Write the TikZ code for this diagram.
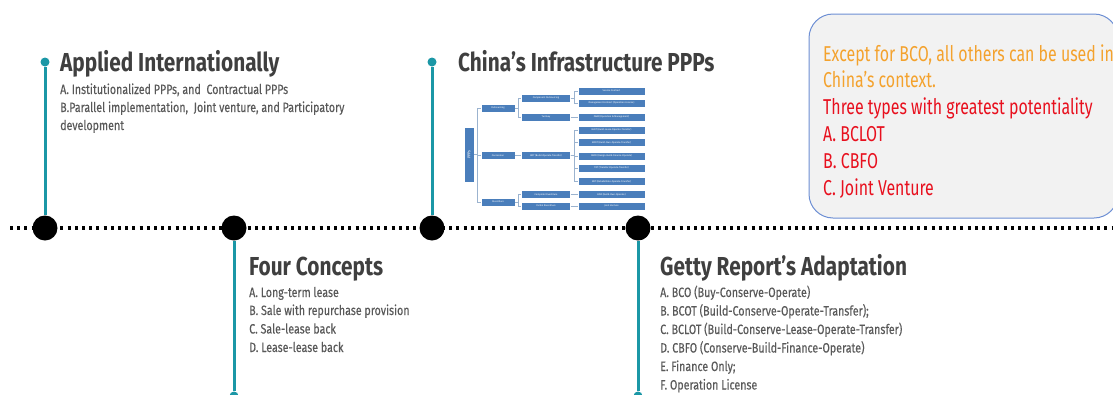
\documentclass[tikz,border=0pt]{standalone}
\usepackage{fontspec}
\newfontfamily\headfont[FakeStretch=0.80]{Fira Sans}
\newfontfamily\bodyfont[FakeStretch=0.79,FakeBold=0.3]{Fira Sans}
\newfontfamily\notefont[FakeStretch=0.74]{Fira Sans}
\newfontfamily\treefont{Fira Sans}
\definecolor{teal}{HTML}{1B97A6}
\definecolor{titlegray}{HTML}{3F3F3F}
\definecolor{itemgray}{HTML}{595959}
\definecolor{noteorange}{HTML}{F4A22D}
\definecolor{notered}{HTML}{E8101E}
\definecolor{noteedge}{HTML}{6D8FD4}
\definecolor{notefill}{HTML}{F2F2F2}
\definecolor{boxblue}{HTML}{4A7EBB}
\definecolor{treeline}{HTML}{9BB3CF}

\begin{document}
\begin{tikzpicture}[x=1pt,y=-1pt,
  title/.style={anchor=base west,inner sep=0pt,text=titlegray,
    font=\headfont\bfseries\fontsize{26}{30}\selectfont},
  item/.style={anchor=base west,inner sep=0pt,text=itemgray,
    font=\bodyfont\fontsize{13.5}{15}\selectfont},
  note/.style={anchor=base west,inner sep=0pt,
    font=\notefont\fontsize{21.5}{25}\selectfont},
  hub/.style={circle,fill=black,inner sep=0pt,minimum size=25pt},
  pin/.style={circle,fill=teal,inner sep=0pt,minimum size=9pt},
  stem/.style={teal,line width=3pt},
  ppbox/.style={fill=boxblue,draw=white,line width=0.4pt,text=white,inner sep=0pt,
    minimum height=8pt,font=\treefont\fontsize{2.4}{2.8}\selectfont},
  tline/.style={treeline,line width=0.8pt}]
\useasboundingbox (0,0) rectangle (1113,394);
\clip (0,0) rectangle (1113,394);

% dotted time line
\coordinate (L0) at (10,228);
\coordinate (L1) at (1116,228);
\draw [line width=3.2pt,dash pattern=on 3pt off 4.2pt] (L0) -- (L1);

\node[hub] (H1) at (45,228) {};
\node[hub] (H2) at (234,228) {};
\node[hub] (H3) at (432,228) {};
\node[hub] (H4) at (638,228) {};

\node[pin] (P1) at (45,62) {};
\node[pin] (P2) at (234,396) {};
\node[pin] (P3) at (432,62) {};
\node[pin] (P4) at (638,396) {};

\draw[stem] (P1) -- (H1);
\draw[stem] (H2) -- (P2);
\draw[stem] (P3) -- (H3);
\draw[stem] (H4) -- (P4);

% applied internationally
\node[title] (T1) at (60,71) {Applied Internationally};
\node[item] (A1) at (60,94) {A. Institutionalized PPPs, and\ \ Contractual PPPs};
\node[item] (A2) at (60,112) {B.Parallel implementation,\ \ Joint venture, and Participatory};
\node[item] (A3) at (60,130) {development};

% four concepts
\node[title] (T2) at (249,275.5) {Four Concepts};
\node[item] (B1) at (249,297) {A. Long-term lease};
\node[item] (B2) at (249,315) {B. Sale with repurchase provision};
\node[item] (B3) at (249,333.5) {C. Sale-lease back};
\node[item] (B4) at (249,352) {D. Lease-lease back};

% china
\node[title] (T3) at (458,71) {China’s Infrastructure PPPs};

% getty
\node[title] (T4) at (660,275.5) {Getty Report’s Adaptation};
\node[item] (C1) at (660,297) {A. BCO (Buy-Conserve-Operate)};
\node[item] (C2) at (660,315.5) {B. BCOT (Build-Conserve-Operate-Transfer);};
\node[item] (C3) at (660,334) {C. BCLOT (Build-Conserve-Lease-Operate-Transfer)};
\node[item] (C4) at (660,352.5) {D. CBFO (Conserve-Build-Finance-Operate)};
\node[item] (C5) at (660,371) {E. Finance Only;};
\node[item] (C6) at (660,389.5) {F. Operation License};

% note box
\draw[noteedge,fill=notefill,line width=1pt,rounded corners=24pt] (809,14) rectangle (1118,218);
\node[note,text=noteorange] (N1) at (823,61) {Except for BCO, all others can be used in};
\node[note,text=noteorange] (N2) at (823,87.5) {China’s context.};
\node[note,text=notered] (N3) at (823,114) {Three types with greatest potentiality};
\node[note,text=notered] (N4) at (823,141) {A. BCLOT};
\node[note,text=notered] (N5) at (823,168) {B. CBFO};
\node[note,text=notered] (N6) at (823,195) {C. Joint Venture};

% PPP tree
\node[ppbox,minimum width=10pt,minimum height=55pt] (ppp) at (469,154.5) {\rotatebox{90}{\fontsize{4}{4}\selectfont PPPs}};

\node[ppbox,minimum width=34pt] (out) at (498,108) {Outsourcing};
\node[ppbox,minimum width=34pt] (con) at (498,155.5) {Concession};
\node[ppbox,minimum width=34pt] (div) at (498,202) {Divestiture};

\node[ppbox,minimum width=49pt] (cmp) at (546,98) {Component Outsourcing};
\node[ppbox,minimum width=49pt] (trn) at (546,117) {Turnkey};
\node[ppbox,minimum width=49pt] (bot) at (546,155.5) {BOT (Build-Operate-Transfer)};
\node[ppbox,minimum width=49pt] (cdv) at (546,194.5) {Complete Divestiture};
\node[ppbox,minimum width=49pt] (pdv) at (546,206) {Partial Divestiture};

\node[ppbox,minimum width=67pt] (svc) at (611.5,91) {Service Contract};
\node[ppbox,minimum width=67pt] (mgt) at (611.5,103) {Management Contract (Operation License)};
\node[ppbox,minimum width=67pt] (om) at (611.5,117) {O\&M (Operation \& Management)};
\node[ppbox,minimum width=67pt] (blot) at (611.5,130) {BLOT (Build-Lease-Operate-Transfer)};
\node[ppbox,minimum width=67pt] (boot) at (611.5,142.5) {BOOT (Build-Own-Operate-Transfer)};
\node[ppbox,minimum width=67pt] (dbfo) at (611.5,156) {DBFO (Design-Build-Finance-Operate)};
\node[ppbox,minimum width=67pt] (tot) at (611.5,168) {TOT (Transfer-Operate-Transfer)};
\node[ppbox,minimum width=67pt] (rot) at (611.5,181.5) {ROT (Rehabilitate-Operate-Transfer)};
\node[ppbox,minimum width=67pt] (boo) at (611.5,194.5) {BOO (Build-Own-Operate)};
\node[ppbox,minimum width=67pt] (jv) at (611.5,206) {Joint Venture};

\draw[tline] (ppp.east) -- ++(3.5,0) |- (out.west);
\draw[tline] (ppp.east) -- ++(3.5,0) |- (con.west);
\draw[tline] (ppp.east) -- ++(3.5,0) |- (div.west);
\draw[tline] (out.east) -- ++(3.5,0) |- (cmp.west);
\draw[tline] (out.east) -- ++(3.5,0) |- (trn.west);
\draw[tline] (con.east) -- (bot.west);
\draw[tline] (div.east) -- ++(3.5,0) |- (cdv.west);
\draw[tline] (div.east) -- ++(3.5,0) |- (pdv.west);
\draw[tline] (cmp.east) -- ++(3.5,0) |- (svc.west);
\draw[tline] (cmp.east) -- ++(3.5,0) |- (mgt.west);
\draw[tline] (trn.east) -- (om.west);
\draw[tline] (bot.east) -- ++(3.5,0) |- (blot.west);
\draw[tline] (bot.east) -- ++(3.5,0) |- (boot.west);
\draw[tline] (bot.east) -- ++(3.5,0) |- (dbfo.west);
\draw[tline] (bot.east) -- ++(3.5,0) |- (tot.west);
\draw[tline] (bot.east) -- ++(3.5,0) |- (rot.west);
\draw[tline] (cdv.east) -- (boo.west);
\draw[tline] (pdv.east) -- (jv.west);
\end{tikzpicture}
\end{document}
